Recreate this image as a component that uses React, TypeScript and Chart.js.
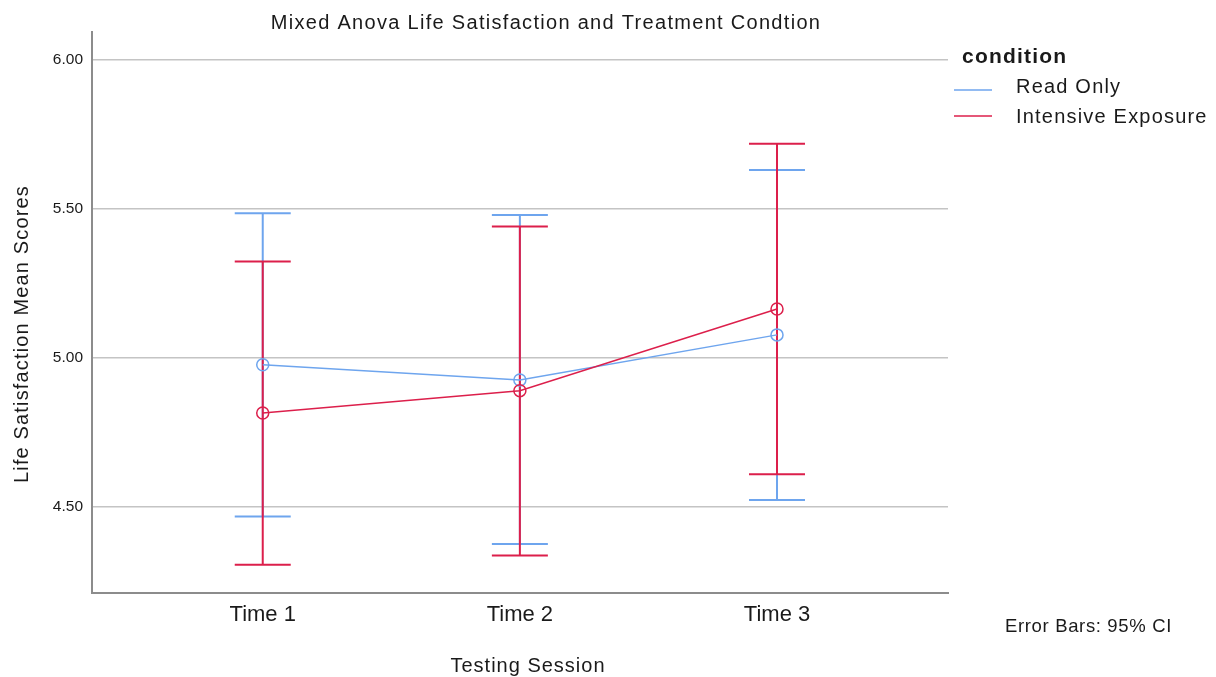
import React, { useEffect, useRef } from "react";
import { Chart, registerables } from "chart.js";

Chart.register(...registerables);

// ---- data ----
const sessions = ["Time 1", "Time 2", "Time 3"];
const sessionX = [1, 2, 3];
const yTicks = [4.5, 5.0, 5.5, 6.0];
const seriesNames = ["Read Only", "Intensive Exposure"];
const readOnlyMean = [4.976, 4.925, 5.076];
const readOnlyLow = [4.467, 4.375, 4.522];
const readOnlyHigh = [5.484, 5.478, 5.629];
const intensiveMean = [4.814, 4.889, 5.163];
const intensiveLow = [4.305, 4.336, 4.609];
const intensiveHigh = [5.322, 5.439, 5.717];

const chartTitle = "Mixed Anova Life Satisfaction and Treatment Condtion";
const xTitle = "Testing Session";
const yTitle = "Life Satisfaction Mean Scores";
const legendTitle = "condition";
const footnote = "Error Bars: 95% CI";

const BLUE = "#6ea5ee";
const RED = "#dc1f4b";
const FONT = "'Liberation Sans', Arial, Helvetica, sans-serif";
const TEXT = "#1a1a1a";

const W = 1216;
const H = 677;

const errorBarPlugin = {
  id: "errorBars",
  beforeDatasetsDraw(chart: any) {
    const { ctx, scales } = chart;
    const x = scales.x;
    const y = scales.y;
    const groups = [
      { color: BLUE, low: readOnlyLow, high: readOnlyHigh },
      { color: RED, low: intensiveLow, high: intensiveHigh },
    ];
    ctx.save();
    groups.forEach((g) => {
      ctx.strokeStyle = g.color;
      ctx.lineWidth = 2;
      sessionX.forEach((sx, i) => {
        const px = x.getPixelForValue(sx);
        const lo = y.getPixelForValue(g.low[i]);
        const hi = y.getPixelForValue(g.high[i]);
        ctx.beginPath();
        ctx.moveTo(px, lo);
        ctx.lineTo(px, hi);
        ctx.moveTo(px - 28, lo);
        ctx.lineTo(px + 28, lo);
        ctx.moveTo(px - 28, hi);
        ctx.lineTo(px + 28, hi);
        ctx.stroke();
      });
    });
    ctx.restore();
  },
};

function spaced(ctx: any, px: number) {
  try {
    ctx.letterSpacing = `${px}px`;
  } catch (e) {
    /* ignore */
  }
}

const textPlugin = {
  id: "texts",
  afterDraw(chart: any) {
    const { ctx } = chart;
    ctx.save();
    ctx.fillStyle = TEXT;
    ctx.textBaseline = "alphabetic";

    // title
    ctx.font = `20px ${FONT}`;
    spaced(ctx, 1.3);
    ctx.textAlign = "center";
    ctx.fillText(chartTitle, 546, 28.5);

    // x title
    ctx.font = `20px ${FONT}`;
    spaced(ctx, 1.0);
    ctx.fillText(xTitle, 528, 672);

    // y title
    ctx.save();
    ctx.translate(27.5, 334);
    ctx.rotate(-Math.PI / 2);
    ctx.font = `20px ${FONT}`;
    spaced(ctx, 1.15);
    ctx.textAlign = "center";
    ctx.fillText(yTitle, 0, 0);
    ctx.restore();

    // legend
    ctx.textAlign = "left";
    ctx.font = `bold 21px ${FONT}`;
    spaced(ctx, 1.2);
    ctx.fillText(legendTitle, 962, 63);
    const items = [
      { name: seriesNames[0], color: BLUE, ty: 93, ly: 90 },
      { name: seriesNames[1], color: RED, ty: 123, ly: 116 },
    ];
    items.forEach((it) => {
      ctx.strokeStyle = it.color;
      ctx.lineWidth = 1.5;
      ctx.beginPath();
      ctx.moveTo(954, it.ly);
      ctx.lineTo(992, it.ly);
      ctx.stroke();
      ctx.fillStyle = TEXT;
      ctx.font = `20px ${FONT}`;
      spaced(ctx, 1.2);
      ctx.fillText(it.name, 1016, it.ty);
    });

    // footnote
    ctx.font = `18.5px ${FONT}`;
    spaced(ctx, 0.65);
    ctx.fillText(footnote, 1005, 631.5);
    ctx.restore();
  },
};

export default function App() {
  const ref = useRef<HTMLCanvasElement | null>(null);

  useEffect(() => {
    if (!ref.current) return;
    const chart = new Chart(ref.current, {
      type: "line",
      data: {
        datasets: [
          {
            label: seriesNames[0],
            data: sessionX.map((x, i) => ({ x, y: readOnlyMean[i] })),
            borderColor: BLUE,
            backgroundColor: "rgba(0,0,0,0)",
            borderWidth: 1.5,
            pointRadius: 6,
            pointBorderWidth: 1.5,
            pointBorderColor: BLUE,
            pointBackgroundColor: "rgba(0,0,0,0)",
            tension: 0,
            order: 1,
          },
          {
            label: seriesNames[1],
            data: sessionX.map((x, i) => ({ x, y: intensiveMean[i] })),
            borderColor: RED,
            backgroundColor: "rgba(0,0,0,0)",
            borderWidth: 1.5,
            pointRadius: 6,
            pointBorderWidth: 1.5,
            pointBorderColor: RED,
            pointBackgroundColor: "rgba(0,0,0,0)",
            tension: 0,
            order: 0,
          },
        ],
      },
      options: {
        responsive: false,
        animation: false,
        layout: { padding: { left: 0, right: W - 948, top: 32, bottom: 0 } },
        plugins: {
          legend: { display: false },
          title: { display: false },
          tooltip: { enabled: false },
        },
        scales: {
          x: {
            type: "linear",
            min: 0.336,
            max: 3.665,
            afterBuildTicks: (scale: any) => {
              scale.ticks = sessionX.map((v) => ({ value: v }));
            },
            afterFit: (scale: any) => {
              scale.height = H - 593;
            },
            ticks: {
              callback: (v: any) => {
                const idx = sessionX.indexOf(Number(v));
                return idx >= 0 ? sessions[idx] : "";
              },
              font: { family: FONT, size: 22 },
              color: TEXT,
              padding: 9,
              maxRotation: 0,
            },
            grid: { display: false, drawTicks: false },
            border: { display: true, color: "#8c8c8c", width: 2 },
          },
          y: {
            type: "linear",
            min: 4.2106,
            max: 6.0915,
            afterBuildTicks: (scale: any) => {
              scale.ticks = yTicks.map((v) => ({ value: v }));
            },
            afterFit: (scale: any) => {
              scale.width = 92;
            },
            ticks: {
              callback: (v: any) => Number(v).toFixed(2),
              font: { family: FONT, size: 15.5 },
              color: TEXT,
              padding: 9,
            },
            grid: { color: "#c4c4c4", lineWidth: 1.5, drawTicks: false },
            border: { display: true, color: "#8c8c8c", width: 2 },
          },
        },
      },
      plugins: [errorBarPlugin, textPlugin],
    });
    return () => chart.destroy();
  }, []);

  return (
    <div style={{ position: "fixed", left: 0, top: 0, width: W, height: H, background: "#fff" }}>
      <canvas ref={ref} width={W} height={H} style={{ width: W, height: H, display: "block" }} />
    </div>
  );
}
